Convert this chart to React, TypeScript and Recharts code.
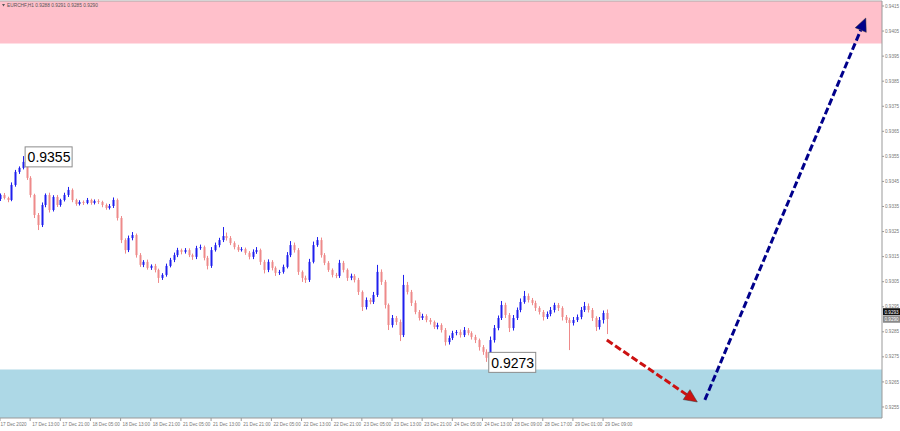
import React from "react";
import {
  ComposedChart,
  Bar,
  XAxis,
  YAxis,
  ReferenceArea,
  ReferenceLine,
  ReferenceDot,
} from "recharts";

// EURCHF H1, hourly closes
const closes = [
  0.93396, 0.93384, 0.93376, 0.93436, 0.93488, 0.93504, 0.93528, 0.93464, 0.93396, 0.93316,
  0.93276, 0.93356, 0.93396, 0.93336, 0.93388, 0.93356, 0.93376, 0.93396, 0.93416, 0.93376,
  0.9336, 0.93368, 0.93364, 0.93376, 0.93364, 0.93372, 0.93368, 0.93356, 0.93344, 0.93352,
  0.93376, 0.93304, 0.93216, 0.93176, 0.93224, 0.93236, 0.93156, 0.93117, 0.93129, 0.93105,
  0.93113, 0.93097, 0.93065, 0.93077, 0.93113, 0.93137, 0.93156, 0.93176, 0.93169, 0.93176,
  0.93156, 0.93149, 0.93184, 0.93188, 0.93145, 0.93113, 0.93176, 0.93196, 0.93216, 0.93232,
  0.93224, 0.93204, 0.93188, 0.93176, 0.9318, 0.93165, 0.93149, 0.93169, 0.93176, 0.93129,
  0.93097, 0.93129, 0.93105, 0.93085, 0.93089, 0.93109, 0.93156, 0.93196, 0.93176, 0.93089,
  0.93065, 0.93057, 0.93129, 0.93196, 0.93216, 0.93156, 0.93125, 0.93097, 0.93077, 0.93073,
  0.93125, 0.93097, 0.93065, 0.93073, 0.93057, 0.93009, 0.92949, 0.92977, 0.92969, 0.92997,
  0.93089, 0.93049, 0.92957, 0.92877, 0.92905, 0.92889, 0.92837, 0.93037, 0.93009, 0.92965,
  0.92929, 0.92905, 0.92913, 0.92897, 0.92889, 0.92869, 0.92877, 0.92857, 0.92809, 0.92825,
  0.92845, 0.92849, 0.92837, 0.92857, 0.92845, 0.92829, 0.92817, 0.92789, 0.9277, 0.92746,
  0.92817, 0.92865, 0.92905, 0.92957, 0.92917, 0.92865, 0.92905, 0.92937, 0.92969, 0.92993,
  0.92977, 0.92965, 0.92945, 0.92929, 0.92909, 0.92921, 0.92937, 0.92957, 0.92945, 0.92909,
  0.92897, 0.92885, 0.92897, 0.92909, 0.92937, 0.92953, 0.92937, 0.92905, 0.92869, 0.92897,
  0.92925, 0.92901,
];
const firstOpen = 0.9338;

// wick lengths in points (0.00001)
const upWicks = [
  6, 8, 5, 10, 8, 6, 23, 9, 7, 5,
  8, 10, 6, 9, 7, 8, 5, 9, 12, 6,
  5, 7, 6, 8, 5, 6, 7, 5, 6, 8,
  10, 6, 8, 7, 10, 12, 6, 8, 7, 9,
  6, 8, 5, 7, 9, 8, 10, 9, 6, 8,
  7, 6, 9, 10, 6, 8, 12, 10, 9, 36,
  14, 8, 7, 9, 8, 6, 7, 10, 12, 6,
  8, 10, 7, 6, 8, 9, 12, 16, 10, 8,
  6, 9, 12, 14, 12, 10, 8, 7, 6, 8,
  12, 8, 6, 9, 7, 8, 6, 10, 8, 12,
  28, 10, 8, 6, 12, 8, 10, 40, 12, 8,
  10, 8, 9, 7, 8, 6, 9, 7, 8, 10,
  9, 8, 10, 12, 8, 7, 9, 6, 8, 10,
  14, 12, 10, 16, 9, 8, 12, 10, 14, 20,
  10, 8, 9, 7, 8, 10, 12, 9, 8, 7,
  8, 9, 12, 10, 12, 16, 10, 8, 7, 12,
  10, 14,
];
const downWicks = [
  8, 6, 9, 5, 7, 8, 6, 8, 10, 12,
  20, 8, 9, 10, 6, 8, 7, 6, 8, 9,
  7, 6, 8, 5, 7, 6, 8, 9, 7, 6,
  8, 10, 12, 14, 8, 9, 10, 8, 9, 7,
  8, 10, 20, 8, 7, 6, 9, 8, 10, 7,
  8, 12, 9, 7, 10, 14, 8, 6, 9, 8,
  10, 8, 9, 7, 6, 8, 10, 9, 8, 12,
  14, 9, 10, 12, 8, 7, 6, 8, 10, 12,
  16, 12, 8, 6, 7, 10, 9, 8, 10, 9,
  8, 10, 12, 9, 10, 12, 16, 10, 9, 8,
  8, 12, 14, 20, 10, 12, 24, 8, 10, 12,
  9, 10, 8, 9, 10, 8, 9, 10, 14, 10,
  8, 9, 10, 8, 9, 10, 12, 14, 12, 16,
  8, 10, 9, 8, 12, 16, 10, 8, 9, 7,
  10, 9, 12, 10, 14, 8, 9, 10, 12, 14,
  12, 108, 10, 8, 9, 8, 10, 12, 16, 10,
  14, 60,
];

const timeTickBars = [0, 8, 16, 24, 32, 40, 48, 56, 64, 72, 80, 88, 96, 104, 112, 120, 128, 136, 144, 152, 160];
const timeLabels = [
  "17 Dec 2020", "17 Dec 13:00", "17 Dec 21:00", "18 Dec 05:00", "18 Dec 13:00",
  "18 Dec 21:00", "21 Dec 05:00", "21 Dec 13:00", "21 Dec 21:00", "22 Dec 05:00",
  "22 Dec 13:00", "22 Dec 21:00", "23 Dec 05:00", "23 Dec 13:00", "23 Dec 21:00",
  "24 Dec 05:00", "24 Dec 13:00", "28 Dec 09:00", "28 Dec 17:00", "29 Dec 01:00",
  "29 Dec 09:00",
];
const priceTicks = [
  0.9255, 0.9265, 0.9275, 0.9285, 0.9295, 0.9305, 0.9315, 0.9325, 0.9335,
  0.9345, 0.9355, 0.9365, 0.9375, 0.9385, 0.9395, 0.9405, 0.9415,
];

const sellZone = [0.94, 0.9417];
const buyZone = [0.92506, 0.927];
const extremes = [
  { bar: 6, price: 0.9355, text: "0.9355" },
  { bar: 129, price: 0.9273, text: "0.9273" },
];
const downArrow = [
  { bar: 161, price: 0.92817 },
  { bar: 185, price: 0.9257 },
];
const upArrow = [
  { bar: 187, price: 0.92578 },
  { bar: 229.7, price: 0.94102 },
];
const priceTags = [
  { price: 0.9293, text: "0.9293", fill: "#111111" },
  { price: 0.929, text: "0.9290", fill: "#8a8a8a" },
];

const BULL = "#1f1fee";
const BEAR = "#ee8a8a";
const FONT = "'Liberation Sans', Arial, sans-serif";

const candles = closes.map((close, i) => {
  const open = i === 0 ? firstOpen : closes[i - 1];
  const high = Math.max(open, close) + upWicks[i] / 1e5;
  const low = Math.min(open, close) - downWicks[i] / 1e5;
  return { bar: i, open, close, high, low, range: [low, high] };
});

function Candle(props: any) {
  const { x, y, width, height, payload } = props;
  if (x == null || y == null) return null;
  const top = Math.min(y, y + height);
  const h = Math.abs(height);
  const cx = Math.round(x + width / 2) + 0.5;
  const { open, close, high, low } = payload;
  const span = high - low || 1e-9;
  const toY = (v: number) => top + ((high - v) / span) * h;
  const color = close >= open ? BULL : BEAR;
  const bodyTop = toY(Math.max(open, close));
  const bodyBot = toY(Math.min(open, close));
  return (
    <g>
      <line x1={cx} x2={cx} y1={top} y2={top + h} stroke={color} strokeWidth={1} />
      <rect x={cx - 1} y={bodyTop} width={2} height={Math.max(bodyBot - bodyTop, 1)} fill={color} />
    </g>
  );
}

function arrowShape(color: string) {
  return (props: any) => {
    const { x1, y1, x2, y2 } = props;
    const len = Math.hypot(x2 - x1, y2 - y1);
    const ux = (x2 - x1) / len;
    const uy = (y2 - y1) / len;
    const headLen = 13;
    const headW = 6;
    const bx = x2 - ux * headLen;
    const by = y2 - uy * headLen;
    const pts = `${x2},${y2} ${bx - uy * headW},${by + ux * headW} ${bx + uy * headW},${by - ux * headW}`;
    return (
      <g>
        <line x1={x1} y1={y1} x2={bx} y2={by} stroke={color} strokeWidth={3} strokeDasharray="7 3" />
        <polygon points={pts} fill={color} stroke="#333" strokeWidth={0.5} />
      </g>
    );
  };
}

function ExtremeBox(text: string) {
  return (props: any) => {
    const { cx, cy } = props;
    return (
      <g>
        <rect x={cx + 2.5} y={cy - 9.5} width={47} height={20} fill="#ffffff" stroke="#8c8c8c" strokeWidth={1} />
        <text x={cx + 5} y={cy + 6} fontSize={14} fontFamily={FONT} fill="#000">
          {text}
        </text>
      </g>
    );
  };
}

function PriceTag(text: string, fill: string) {
  return (props: any) => {
    const { cx, cy } = props;
    return (
      <g>
        <rect x={cx + 1} y={cy - 3.5} width={17} height={7} fill={fill} />
        <text x={cx + 2.5} y={cy + 1.8} fontSize={4.6} fontFamily={FONT} fill="#fff">
          {text}
        </text>
      </g>
    );
  };
}

function TimeTick(props: any) {
  const { x, y, payload, index } = props;
  return (
    <g>
      <line x1={x} x2={x} y1={y} y2={y + 3} stroke="#999" />
      <text x={index === 0 ? x + 0.5 : x + 2} y={y + 8} fontSize={4.6} fontFamily={FONT} fill="#777">
        {timeLabels[timeTickBars.indexOf(payload.value)]}
      </text>
    </g>
  );
}

export default function App() {
  return (
    <div style={{ position: "absolute", left: 0, top: 0, width: 900, height: 431, background: "#fff" }}>
      <ComposedChart
        width={900}
        height={431}
        data={candles}
        margin={{ top: 1, right: 0, bottom: 0, left: 0 }}
      >
        <XAxis
          dataKey="bar"
          type="number"
          domain={[0, 234]}
          ticks={timeTickBars}
          interval={0}
          height={13}
          tick={<TimeTick />}
          tickLine={false}
          tickSize={0}
          tickMargin={0}
          axisLine={{ stroke: "#999" }}
          allowDataOverflow
        />
        <YAxis
          orientation="right"
          type="number"
          domain={[0.92506, 0.9417]}
          ticks={priceTicks}
          interval={0}
          width={18}
          tickFormatter={(v: number) => v.toFixed(4)}
          tick={{ fontSize: 4.6, fill: "#777", fontFamily: FONT }}
          tickLine={{ stroke: "#999" }}
          tickSize={2}
          tickMargin={1}
          axisLine={{ stroke: "#999" }}
          allowDataOverflow
        />
        <ReferenceLine y={0.9417} stroke="#aaa" ifOverflow="visible" />
        <ReferenceArea y1={sellZone[0]} y2={sellZone[1]} fill="#ffc0cb" fillOpacity={1} stroke="none" ifOverflow="visible" />
        <ReferenceArea y1={buyZone[0]} y2={buyZone[1]} fill="#add8e6" fillOpacity={1} stroke="none" ifOverflow="visible" />
        <Bar dataKey="range" shape={<Candle />} barSize={2} isAnimationActive={false} />
        <ReferenceLine
          segment={[{ x: downArrow[0].bar, y: downArrow[0].price }, { x: downArrow[1].bar, y: downArrow[1].price }]}
          stroke="#cc1111"
          shape={arrowShape("#cc1111")}
          ifOverflow="visible"
        />
        <ReferenceLine
          segment={[{ x: upArrow[0].bar, y: upArrow[0].price }, { x: upArrow[1].bar, y: upArrow[1].price }]}
          stroke="#00008b"
          shape={arrowShape("#00008b")}
          ifOverflow="visible"
        />
        {extremes.map((e) => (
          <ReferenceDot key={e.text} x={e.bar} y={e.price} r={1} shape={ExtremeBox(e.text)} ifOverflow="visible" />
        ))}
        {priceTags.map((t) => (
          <ReferenceDot key={t.text} x={234} y={t.price} r={1} shape={PriceTag(t.text, t.fill)} ifOverflow="visible" />
        ))}
      </ComposedChart>
      <svg width={120} height={10} style={{ position: "absolute", left: 0, top: 0 }}>
        <polygon points="2,4 5,4 3.5,6.5" fill="#555" />
        <text x={7} y={7} fontSize={4.8} fontFamily={FONT} fill="#555">
          EURCHF,H1  0.9288 0.9291 0.9285 0.9290
        </text>
      </svg>
    </div>
  );
}
